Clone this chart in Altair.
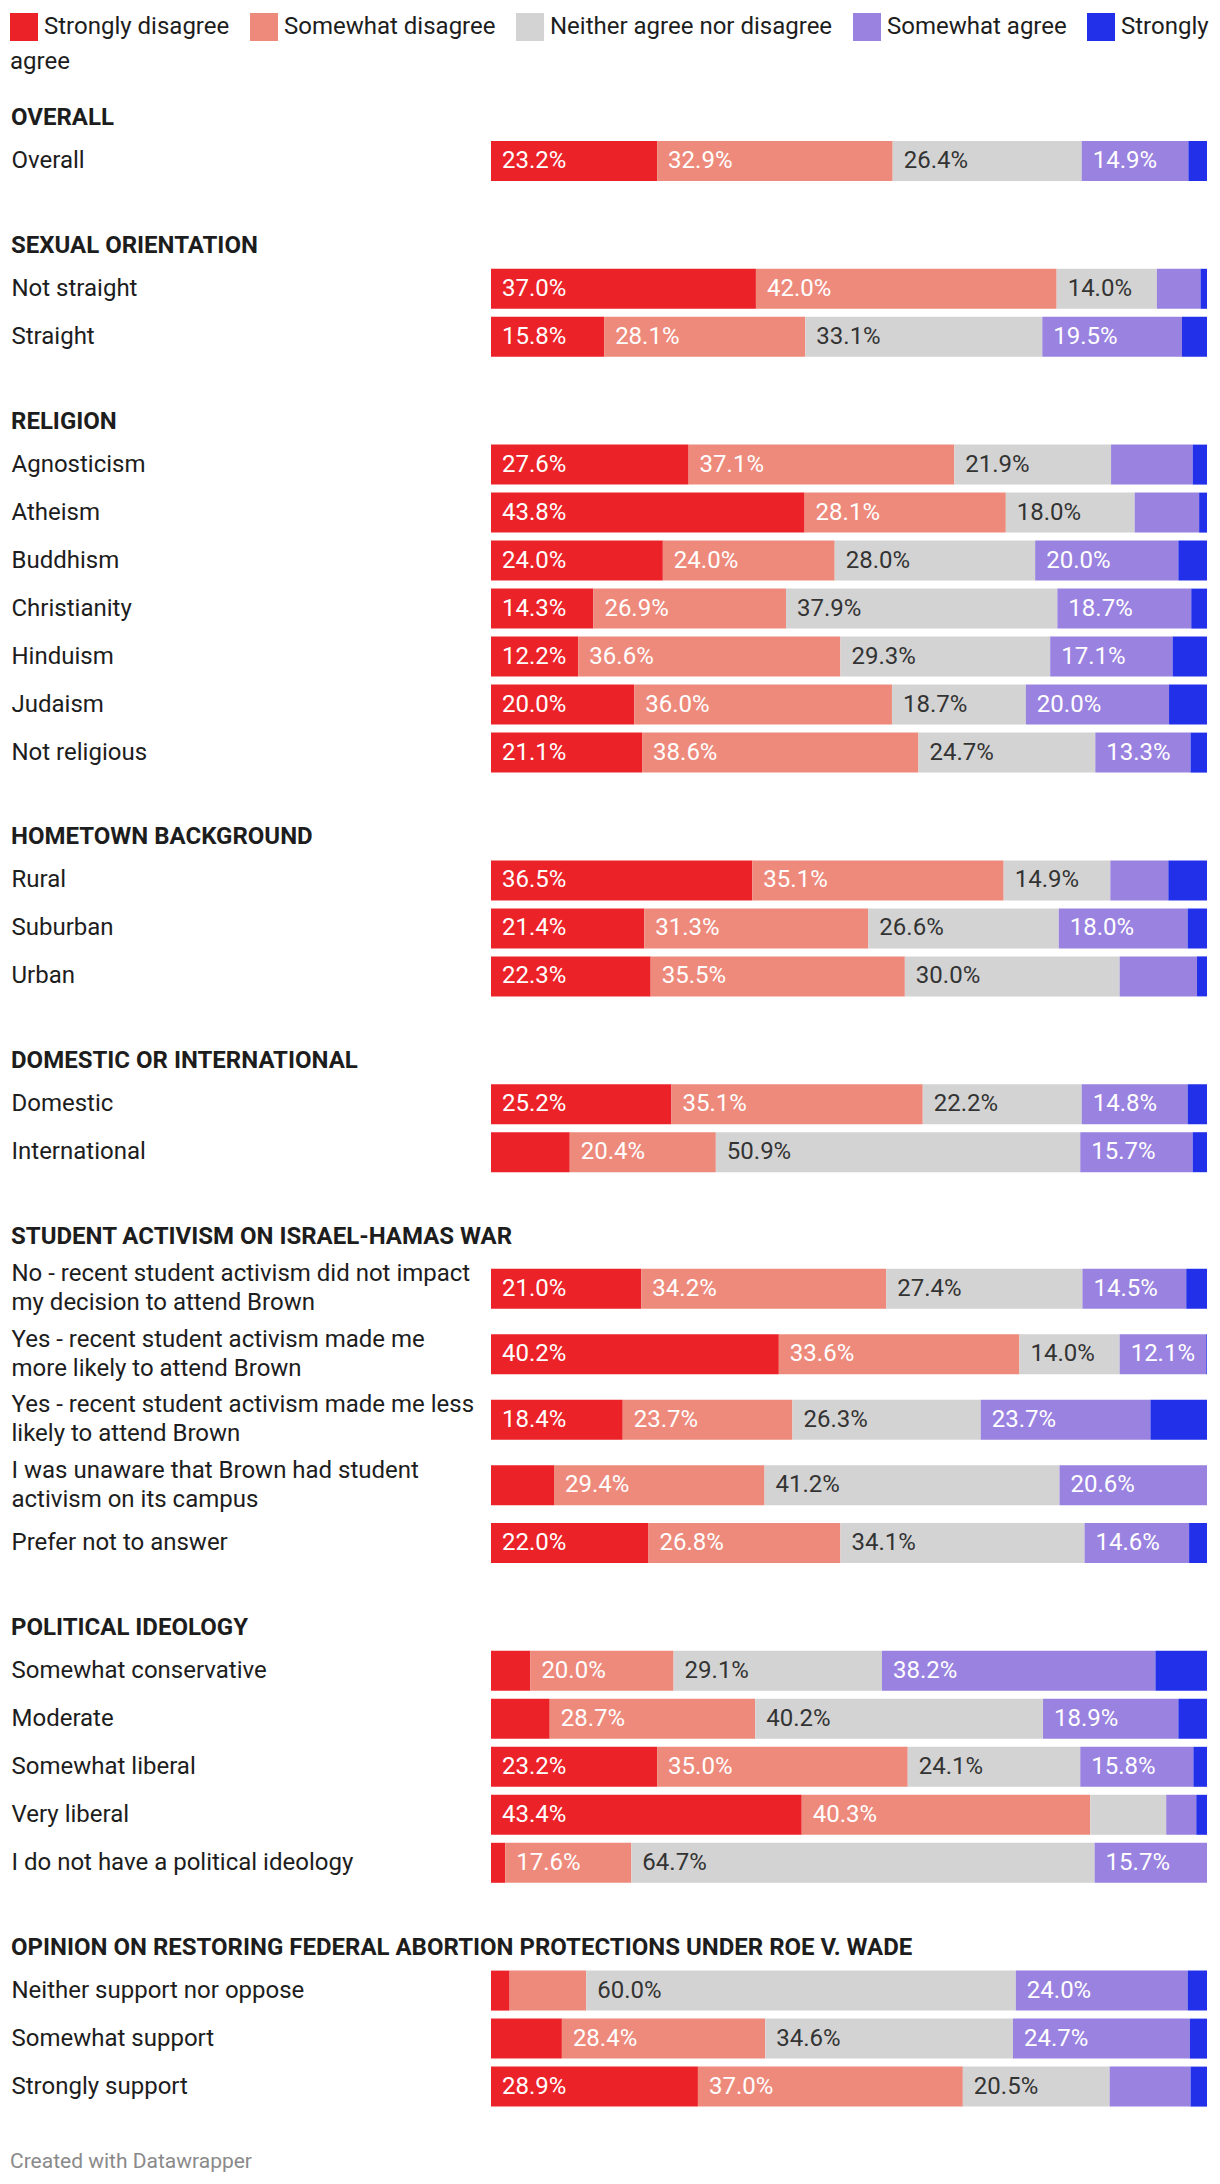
import altair as alt
import pandas as pd

categories = ["Strongly disagree", "Somewhat disagree", "Neither agree nor disagree",
              "Somewhat agree", "Strongly agree"]
colors = ["#ec2229", "#ee8a7c", "#d3d3d3", "#9a82e1", "#2230e9"]

sec_overall = "OVERALL"
rows_overall = ["Overall"]
vals_overall = [[23.2, 32.9, 26.4, 14.9, 2.6]]

sec_sexual = "SEXUAL ORIENTATION"
rows_sexual = ["Not straight", "Straight"]
vals_sexual = [[37.0, 42.0, 14.0, 6.1, 0.9],
               [15.8, 28.1, 33.1, 19.5, 3.5]]

sec_religion = "RELIGION"
rows_religion = ["Agnosticism", "Atheism", "Buddhism", "Christianity", "Hinduism",
                 "Judaism", "Not religious"]
vals_religion = [[27.6, 37.1, 21.9, 11.4, 2.0],
                 [43.8, 28.1, 18.0, 9.0, 1.1],
                 [24.0, 24.0, 28.0, 20.0, 4.0],
                 [14.3, 26.9, 37.9, 18.7, 2.2],
                 [12.2, 36.6, 29.3, 17.1, 4.8],
                 [20.0, 36.0, 18.7, 20.0, 5.3],
                 [21.1, 38.6, 24.7, 13.3, 2.3]]

sec_hometown = "HOMETOWN BACKGROUND"
rows_hometown = ["Rural", "Suburban", "Urban"]
vals_hometown = [[36.5, 35.1, 14.9, 8.1, 5.4],
                 [21.4, 31.3, 26.6, 18.0, 2.7],
                 [22.3, 35.5, 30.0, 10.8, 1.4]]

sec_domestic = "DOMESTIC OR INTERNATIONAL"
rows_domestic = ["Domestic", "International"]
vals_domestic = [[25.2, 35.1, 22.2, 14.8, 2.7],
                 [11.0, 20.4, 50.9, 15.7, 2.0]]

sec_activism = "STUDENT ACTIVISM ON ISRAEL-HAMAS WAR"
rows_activism = ["No - recent student activism did not impact\nmy decision to attend Brown",
                 "Yes - recent student activism made me\nmore likely to attend Brown",
                 "Yes - recent student activism made me less\nlikely to attend Brown",
                 "I was unaware that Brown had student\nactivism on its campus"]
vals_activism = [[21.0, 34.2, 27.4, 14.5, 2.9],
                 [40.2, 33.6, 14.0, 12.1, 0.1],
                 [18.4, 23.7, 26.3, 23.7, 7.9],
                 [8.8, 29.4, 41.2, 20.6, 0.0]]
rows_activism_last = ["Prefer not to answer"]
vals_activism_last = [[22.0, 26.8, 34.1, 14.6, 2.5]]

sec_politics = "POLITICAL IDEOLOGY"
rows_politics = ["Somewhat conservative", "Moderate", "Somewhat liberal", "Very liberal",
                 "I do not have a political ideology"]
vals_politics = [[5.5, 20.0, 29.1, 38.2, 7.2],
                 [8.2, 28.7, 40.2, 18.9, 4.0],
                 [23.2, 35.0, 24.1, 15.8, 1.9],
                 [43.4, 40.3, 10.6, 4.2, 1.5],
                 [2.0, 17.6, 64.7, 15.7, 0.0]]

sec_roe = "OPINION ON RESTORING FEDERAL ABORTION PROTECTIONS UNDER ROE V. WADE"
rows_roe = ["Neither support nor oppose", "Somewhat support", "Strongly support"]
vals_roe = [[2.6, 10.7, 60.0, 24.0, 2.7],
            [9.9, 28.4, 34.6, 24.7, 2.4],
            [28.9, 37.0, 20.5, 11.3, 2.3]]

FONT = "Roboto"
FS = 24
TEXT_COLOR = "#1d1d1d"
PLOT_W = 716
LABEL_GAP = 480
LINE_H = 29


def make_df(rows, vals):
    recs = []
    for r, vs in zip(rows, vals):
        for i, (c, v) in enumerate(zip(categories, vs)):
            recs.append({"row": r, "category": c, "order": i, "value": v})
    return pd.DataFrame(recs)


color_enc = alt.Color(
    "category:N",
    scale=alt.Scale(domain=categories, range=colors),
    legend=alt.Legend(
        orient="none", legendX=-(LABEL_GAP + 1), legendY=-124,
        direction="horizontal", padding=0,
        title="agree", titleOrient="bottom", titleAnchor="start",
        titleFont=FONT, titleFontSize=FS, titleFontWeight="normal", titleColor=TEXT_COLOR,
        titlePadding=9,
        labelExpr="datum.label == 'Strongly agree' ? 'Strongly' : datum.label",
        symbolType="square", symbolSize=784, symbolStrokeWidth=0, symbolOpacity=1,
        labelFont=FONT, labelFontSize=FS, labelColor=TEXT_COLOR, labelOffset=6,
        labelLimit=500, columnPadding=20,
    ),
)


def section(rows, vals, title=None, step=48.0, bar_h=40.0, two_line=False):
    df = make_df(rows, vals)
    pad_inner = (step - bar_h) / step
    y_enc = alt.Y(
        "row:N", sort=rows, title=None,
        scale=alt.Scale(paddingInner=pad_inner, paddingOuter=pad_inner / 2),
        axis=alt.Axis(domain=False, ticks=False, tickSize=0, grid=False, labelAlign="left",
                      labelPadding=LABEL_GAP, labelFont=FONT, labelFontSize=FS,
                      labelColor=TEXT_COLOR, labelLimit=0, labelLineHeight=LINE_H,
                      labelBaseline="middle",
                      labelOffset=(-LINE_H / 2 if two_line else 0),
                      labelExpr="split(datum.label, '\\n')"),
    )
    x_scale = alt.Scale(domain=[0, 100], nice=False, zero=True)
    base = alt.Chart(df).transform_stack(
        stack="value", groupby=["row"], as_=["x0", "x1"],
        sort=[alt.SortField("order", order="ascending")],
    )
    bars = base.mark_bar(strokeWidth=0).encode(
        y=y_enc,
        x=alt.X("x0:Q", scale=x_scale, axis=None),
        x2="x1:Q",
        color=color_enc,
    )
    labels = base.transform_filter("datum.value >= 12").transform_calculate(
        lbl="format(datum.value, '.1f') + '%'"
    ).mark_text(align="left", baseline="middle", dx=11, font=FONT, fontSize=FS).encode(
        y=alt.Y("row:N", sort=rows),
        x=alt.X("x0:Q", scale=x_scale, axis=None),
        text="lbl:N",
        color=alt.condition("datum.category == 'Neither agree nor disagree'",
                            alt.value("#333333"), alt.value("#ffffff")),
    )
    props = dict(width=PLOT_W, height=alt.Step(step))
    if title:
        props["title"] = alt.TitleParams(
            title, anchor="start", frame="bounds", font=FONT, fontSize=FS,
            fontWeight="bold", color=TEXT_COLOR, offset=7,
        )
    return alt.layer(bars, labels).properties(**props)


charts = [
    section(rows_overall, vals_overall, sec_overall),
    section(rows_sexual, vals_sexual, sec_sexual),
    section(rows_religion, vals_religion, sec_religion),
    section(rows_hometown, vals_hometown, sec_hometown),
    section(rows_domestic, vals_domestic, sec_domestic),
    alt.vconcat(
        section(rows_activism, vals_activism, sec_activism, step=65.5, two_line=True),
        section(rows_activism_last, vals_activism_last, None, step=48.0),
        spacing=1,
    ),
    section(rows_politics, vals_politics, sec_politics),
    section(rows_roe, vals_roe, sec_roe),
]

chart = alt.vconcat(*charts, spacing=48.8).properties(
    title=alt.TitleParams(
        "Created with Datawrapper", orient="bottom", anchor="start", frame="bounds",
        font=FONT, fontSize=21, fontWeight="normal", color="#8a8a8a", offset=40,
    ),
    padding={"left": 10, "right": 4, "top": 13, "bottom": 4},
).configure(
    background="white",
    view=alt.ViewConfig(strokeWidth=0, stroke="transparent"),
)

chart.save("out.html", embed_options={"renderer": "svg", "actions": False})
